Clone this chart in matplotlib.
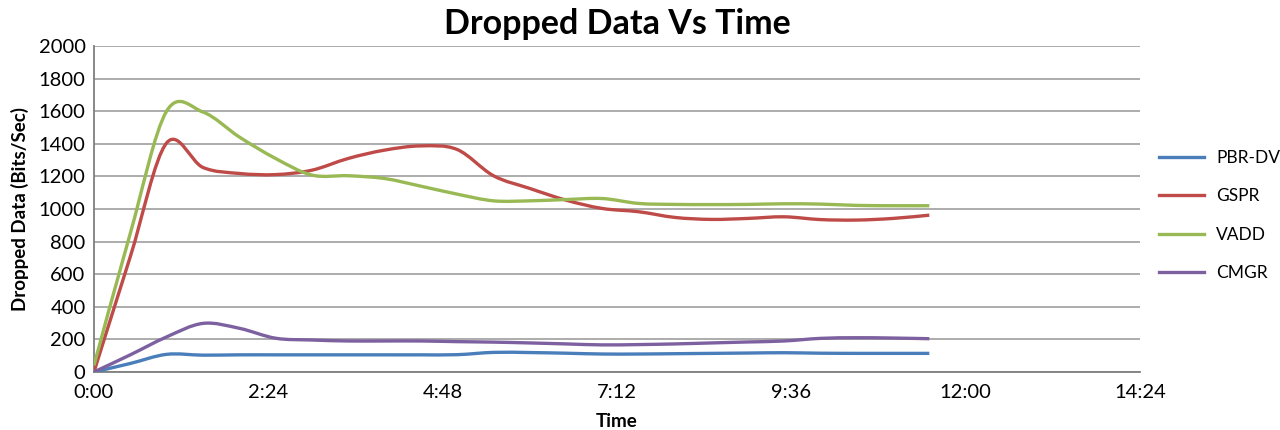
import matplotlib.pyplot as plt
from matplotlib.lines import Line2D
from matplotlib.patches import PathPatch
from matplotlib.path import Path
from matplotlib.ticker import FuncFormatter, MultipleLocator

plt.rcParams['font.family'] = ['Lato', 'DejaVu Sans']

# time in seconds
time_s = [0, 30, 60, 90, 120, 150, 180, 210, 240, 270, 300, 330,
          360, 390, 420, 450, 480, 510, 540, 570, 600, 630, 660, 690]

pbr_dv = [0, 52, 108, 103, 105, 105, 105, 105, 105, 105, 106, 120,
          119, 115, 110, 110, 112, 114, 116, 118, 115, 114, 114, 114]
gspr = [0, 707, 1405, 1255, 1218, 1211, 1238, 1310, 1361, 1387, 1365, 1204,
        1126, 1054, 1003, 983, 948, 936, 942, 952, 935, 932, 942, 962]
vadd = [40, 850, 1600, 1595, 1442, 1310, 1208, 1204, 1187, 1140, 1091, 1050,
        1050, 1058, 1064, 1034, 1028, 1027, 1028, 1032, 1030, 1022, 1020, 1020]
cmgr = [0, 105, 215, 298, 268, 207, 196, 190, 190, 190, 186, 183,
        178, 172, 166, 168, 172, 178, 184, 190, 206, 210, 208, 204]

series = [
    ("PBR-DV", pbr_dv, "#4a7ebb"),
    ("GSPR", gspr, "#be4b48"),
    ("VADD", vadd, "#98b954"),
    ("CMGR", cmgr, "#7d60a0"),
]


def mmss(x, pos):
    x = int(round(x))
    return f"{x // 60}:{x % 60:02d}"


# excel style smoothed line: bezier segments through the points
def smooth_path(x, y):
    n = len(x)
    verts = [(x[0], y[0])]
    codes = [Path.MOVETO]
    for i in range(n - 1):
        xa, ya = (x[i - 1], y[i - 1]) if i > 0 else (x[i], y[i])
        xb, yb = (x[i + 2], y[i + 2]) if i + 2 < n else (x[i + 1], y[i + 1])
        c1 = (x[i] + (x[i + 1] - xa) / 6, y[i] + (y[i + 1] - ya) / 6)
        c2 = (x[i + 1] - (xb - x[i]) / 6, y[i + 1] - (yb - y[i]) / 6)
        verts += [c1, c2, (x[i + 1], y[i + 1])]
        codes += [Path.CURVE4] * 3
    return Path(verts, codes)


fig = plt.figure(figsize=(12.8, 4.3), dpi=100)
ax = fig.add_axes([0.0734, 0.135, 0.8172, 0.758])

handles = []
for name, vals, color in series:
    ax.add_patch(PathPatch(smooth_path(time_s, vals), facecolor='none',
                           edgecolor=color, linewidth=2.4, capstyle='butt',
                           joinstyle='round', zorder=3))
    handles.append(Line2D([], [], color=color, linewidth=2.4, label=name))

ax.set_xlim(0, 864)
ax.set_ylim(0, 2000)
ax.xaxis.set_major_locator(MultipleLocator(144))
ax.xaxis.set_major_formatter(FuncFormatter(mmss))
ax.yaxis.set_major_locator(MultipleLocator(200))
ax.grid(axis='y', color='#a6a6a6', linewidth=1.3)
ax.set_axisbelow(True)

for side in ['top', 'right']:
    ax.spines[side].set_visible(False)
for side in ['left', 'bottom']:
    ax.spines[side].set_color('#7f7f7f')
    ax.spines[side].set_linewidth(1.3)

ax.tick_params(length=0, labelsize=14.5, pad=6)
ax.tick_params(axis='x', pad=9)

ax.set_title("Dropped Data Vs Time", fontsize=24.5, fontweight='bold', pad=9)
ax.set_xlabel("Time", fontsize=13.5, fontweight='bold', labelpad=8)
ax.set_ylabel("Dropped Data (Bits/Sec)", fontsize=13.5, fontweight='bold', labelpad=7)

fig.legend(handles=handles, loc='upper left', bbox_to_anchor=(0.9, 0.668),
           frameon=False, fontsize=12.5, handlelength=2.6, labelspacing=1.3,
           handletextpad=0.7, borderaxespad=0)

fig.savefig("out.png", dpi=100)
